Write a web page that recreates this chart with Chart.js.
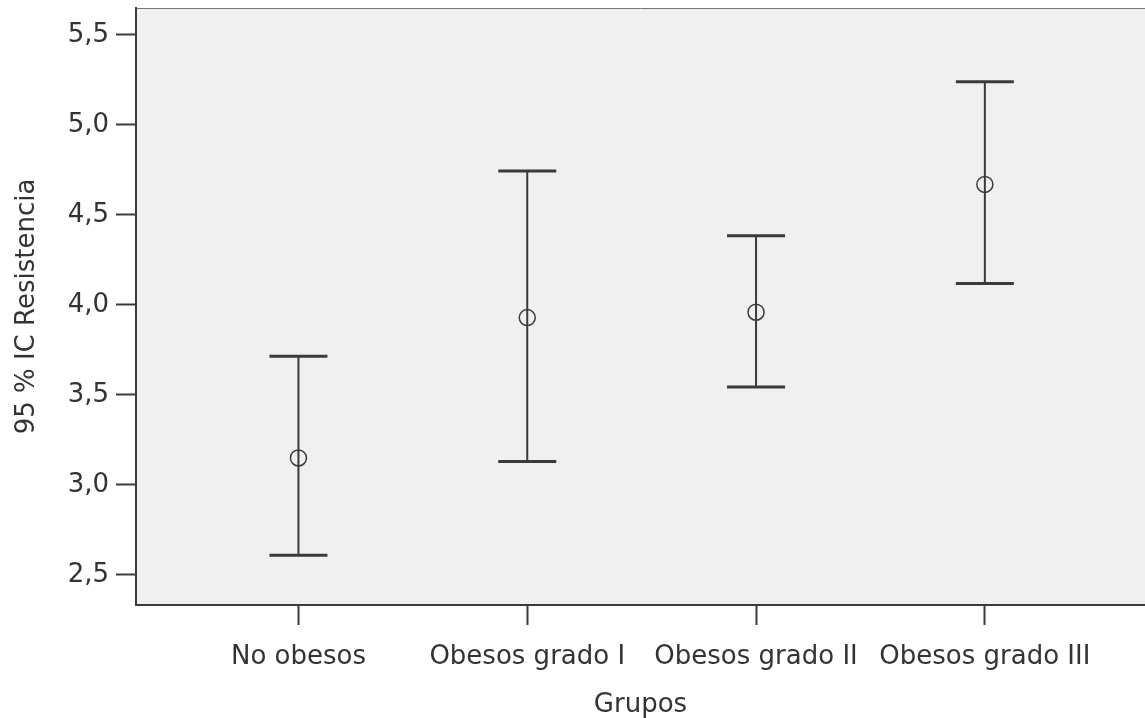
<!DOCTYPE html>
<html>
<head>
<meta charset="utf-8">
<script src="https://cdn.jsdelivr.net/npm/chart.js@4"></script>
<style>
  html, body { margin: 0; padding: 0; background: #fff; overflow: hidden; }
  #wrap { width: 1145px; height: 718px; }
  canvas { display: block; }
</style>
</head>
<body>
<div id="wrap"><canvas id="ic_chart"></canvas></div>
<script>
const categories = ['No obesos', 'Obesos grado I', 'Obesos grado II', 'Obesos grado III'];
const means = [3.15, 3.93, 3.96, 4.67];
const lower = [2.61, 3.13, 3.545, 4.12];
const upper = [3.715, 4.745, 4.385, 5.24];
const yTicks = [2.5, 3.0, 3.5, 4.0, 4.5, 5.0, 5.5];

const lineColor = '#3a3a3a';
const font = { family: 'DejaVu Sans', size: 26 };

// no extra room for half labels at the ends
function noPad(s) {
  s.paddingTop = 0; s.paddingBottom = 0; s.paddingLeft = 0; s.paddingRight = 0;
}

// error bars + plot background
const errorBars = {
  id: 'errorBars',
  beforeDraw(chart) {
    const { ctx, chartArea: a } = chart;
    ctx.save();
    ctx.fillStyle = '#f0f0f0';
    ctx.fillRect(a.left, a.top, a.right - a.left, a.bottom - a.top);
    ctx.strokeStyle = '#777';
    ctx.lineWidth = 1;
    ctx.beginPath();
    ctx.moveTo(a.left, a.top + 0.5);
    ctx.lineTo(a.right, a.top + 0.5);
    ctx.stroke();
    ctx.restore();
  },
  beforeDatasetsDraw(chart) {
    const { ctx, scales: { x, y } } = chart;
    ctx.save();
    ctx.strokeStyle = lineColor;
    means.forEach((m, i) => {
      const px = x.getPixelForValue(i + 1);
      const top = y.getPixelForValue(upper[i]);
      const bot = y.getPixelForValue(lower[i]);
      ctx.lineWidth = 2;
      ctx.beginPath();
      ctx.moveTo(px, top);
      ctx.lineTo(px, bot);
      ctx.stroke();
      ctx.lineWidth = 3;
      ctx.beginPath();
      ctx.moveTo(px - 29, top);
      ctx.lineTo(px + 29, top);
      ctx.moveTo(px - 29, bot);
      ctx.lineTo(px + 29, bot);
      ctx.stroke();
    });
    ctx.restore();
  }
};

const config = {
  type: 'scatter',
  data: {
    datasets: [{
      data: means.map((m, i) => ({ x: i + 1, y: m })),
      pointStyle: 'circle',
      pointRadius: 8,
      pointHoverRadius: 8,
      borderColor: lineColor,
      borderWidth: 1.5,
      backgroundColor: 'rgba(0,0,0,0)'
    }]
  },
  options: {
    responsive: true,
    maintainAspectRatio: false,
    animation: false,
    layout: { autoPadding: false, padding: { top: 8, right: 0, left: 0, bottom: 0 } },
    plugins: {
      legend: { display: false },
      tooltip: { enabled: false }
    },
    scales: {
      x: {
        type: 'linear',
        min: 0.29,
        max: 4.7,
        afterBuildTicks: (s) => { s.ticks = categories.map((c, i) => ({ value: i + 1 })); },
        afterFit: (s) => { s.height = 113; noPad(s); },
        ticks: {
          color: '#333',
          font: font,
          padding: 17,
          maxRotation: 0,
          autoSkip: false,
          callback: (v) => categories[v - 1]
        },
        grid: { drawOnChartArea: false, drawTicks: true, tickLength: 20, tickColor: lineColor, tickWidth: 2 },
        border: { display: true, color: lineColor, width: 2 },
        title: {
          display: true, text: 'Grupos', color: '#333',
          font: { family: 'DejaVu Sans', size: 26, lineHeight: 1.0 },
          padding: { top: 0, bottom: 0 }
        }
      },
      y: {
        min: 2.3333,
        max: 5.65,
        afterBuildTicks: (s) => { s.ticks = yTicks.map(v => ({ value: v })); },
        afterFit: (s) => { s.width = 136; noPad(s); },
        ticks: {
          color: '#333',
          font: font,
          padding: 7,
          callback: (v) => v.toFixed(1).replace('.', ',')
        },
        grid: { drawOnChartArea: false, drawTicks: true, tickLength: 20, tickColor: lineColor, tickWidth: 2 },
        border: { display: true, color: lineColor, width: 2 },
        title: { display: true, text: '95 % IC Resistencia', color: '#333', font: font, padding: { top: 12, bottom: 0 } }
      }
    }
  },
  plugins: [errorBars]
};

const ic_chart = new Chart(document.getElementById('ic_chart').getContext('2d'), config);
</script>
</body>
</html>
